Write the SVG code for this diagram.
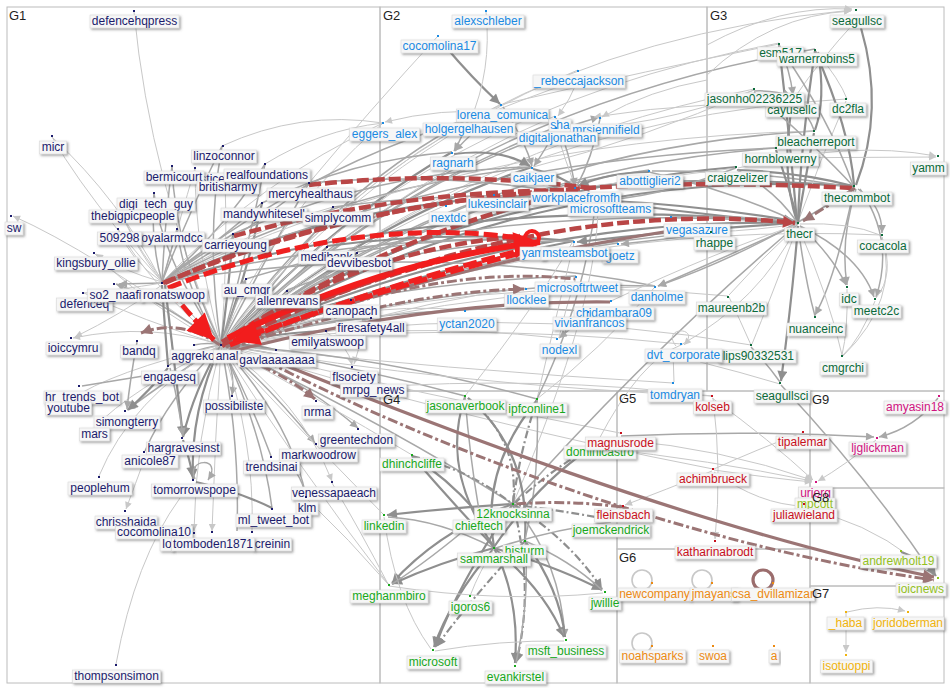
<svg xmlns="http://www.w3.org/2000/svg" width="950" height="688" viewBox="0 0 950 688">
<defs>
<style>
.fr{fill:none;stroke:#bcbcbc;stroke-width:1}
.gt{font-family:"Liberation Sans",Arial,sans-serif;font-size:13px;fill:#1e1e1e}
.n text{font-family:"Liberation Sans",Arial,sans-serif;font-size:12px;text-anchor:middle}
.lb{fill:#f6f6f6;stroke:#d9d9d9;stroke-width:.6;filter:url(#sh)}
.c1 text,.c1 .d{fill:#1b1b6c}
.c2 text,.c2 .d{fill:#1a8ae2}
.c3 text,.c3 .d{fill:#0b6a3a}
.c4 text,.c4 .d{fill:#18a81c}
.c5 text,.c5 .d{fill:#c8101c}
.c6 text,.c6 .d{fill:#ec8a12}
.c7 text,.c7 .d{fill:#f0b30c}
.c8 text,.c8 .d{fill:#93c11e}
.c9 text,.c9 .d{fill:#d0137f}
#edges path,#edges circle{fill:none}
.l{stroke:#c8c8c8;stroke-width:1}
.m{stroke:#a8a8a8;stroke-width:1.5}
.k{stroke:#8f8f8f;stroke-width:2.2}
.kd{stroke:#8f8f8f;stroke-width:2.2;stroke-dasharray:8 3 2 3}
.br{stroke:#9b7575;stroke-width:3.2}
.bd{stroke:#9b7575;stroke-width:3;stroke-dasharray:10 3 3 3}
.rd{stroke:#b94646;stroke-width:4.5;stroke-dasharray:12 4}
.rr{stroke:#f21d1d;stroke-width:6}
.rx{stroke:#ef2020;stroke-width:5;stroke-dasharray:14 5}
.a1{marker-end:url(#aL)}
.a2{marker-end:url(#aM)}
.a3{marker-end:url(#aK)}
.a4{marker-end:url(#aB)}
.a5{marker-end:url(#aR)}
.a6{marker-end:url(#aD)}
</style>
<filter id="sh" x="-10%" y="-30%" width="130%" height="180%"><feDropShadow dx="1.5" dy="1.5" stdDeviation="0.8" flood-color="#555" flood-opacity="0.55"/></filter>
<marker id="aL" viewBox="0 0 10 10" refX="10" refY="5" markerWidth="9" markerHeight="7" orient="auto" markerUnits="userSpaceOnUse"><path d="M0,0 L10,5 L0,10 z" fill="#c8c8c8"/></marker>
<marker id="aM" viewBox="0 0 10 10" refX="10" refY="5" markerWidth="10" markerHeight="8" orient="auto" markerUnits="userSpaceOnUse"><path d="M0,0 L10,5 L0,10 z" fill="#a8a8a8"/></marker>
<marker id="aK" viewBox="0 0 10 10" refX="10" refY="5" markerWidth="12" markerHeight="10" orient="auto" markerUnits="userSpaceOnUse"><path d="M0,0 L10,5 L0,10 z" fill="#8f8f8f"/></marker>
<marker id="aB" viewBox="0 0 10 10" refX="10" refY="5" markerWidth="13" markerHeight="11" orient="auto" markerUnits="userSpaceOnUse"><path d="M0,0 L10,5 L0,10 z" fill="#9b7575"/></marker>
<marker id="aR" viewBox="0 0 10 10" refX="10" refY="5" markerWidth="30" markerHeight="26" orient="auto" markerUnits="userSpaceOnUse"><path d="M0,0 L10,5 L0,10 z" fill="#f21d1d"/></marker>
<marker id="aD" viewBox="0 0 10 10" refX="10" refY="5" markerWidth="14" markerHeight="12" orient="auto" markerUnits="userSpaceOnUse"><path d="M0,0 L10,5 L0,10 z" fill="#b94646"/></marker>
</defs>
<rect width="950" height="688" fill="#ffffff"/>
<g id="frames">
<rect class="fr" x="7" y="7" width="373" height="676"/>
<rect class="fr" x="380" y="7" width="327" height="384"/>
<rect class="fr" x="707" y="7" width="237" height="384"/>
<rect class="fr" x="380" y="391" width="237" height="292"/>
<rect class="fr" x="617" y="391" width="193" height="158"/>
<rect class="fr" x="810" y="391" width="134" height="97"/>
<rect class="fr" x="810" y="488" width="134" height="98"/>
<rect class="fr" x="617" y="549" width="193" height="134"/>
<rect class="fr" x="810" y="586" width="134" height="97"/>
</g>
<g id="edges">
<!-- G1 internal from hub -->
<path class="l" d="M221 345 Q150 180 134 12"/>
<path class="l" d="M221 345 Q100 220 52 137"/>
<path class="l a1" d="M221 345 Q90 250 13 216"/>
<path class="m" d="M221 345 Q205 240 222 146"/>
<path class="m" d="M221 345 Q175 250 172 166"/>
<path class="l" d="M221 345 Q195 250 195 168"/>
<path class="l" d="M221 345 Q228 260 225 177"/>
<path class="m" d="M221 345 Q248 250 265 164"/>
<path class="m" d="M221 345 Q160 255 154 193"/>
<path class="l" d="M221 345 Q140 265 119 206"/>
<path class="m" d="M221 345 Q270 250 309 183"/>
<path class="k" d="M221 345 Q248 270 262 203"/>
<path class="m" d="M221 345 Q300 255 333 207"/>
<path class="l" d="M221 345 Q150 285 118 229"/>
<path class="m" d="M221 345 Q185 290 177 229"/>
<path class="k" d="M221 345 Q228 295 233 234"/>
<path class="l" d="M221 345 Q140 300 94 253"/>
<path class="m a2" d="M221 345 Q160 300 116 284"/>
<path class="l" d="M221 345 Q140 320 84 293"/>
<path class="m a2" d="M221 345 Q233 310 246 279"/>
<path class="k" d="M221 345 Q262 318 287 291"/>
<path class="k" d="M221 345 Q282 290 327 247"/>
<path class="k" d="M221 345 Q300 288 357 253"/>
<path class="k" d="M221 345 Q300 310 351 300"/>
<path class="m a2" d="M221 345 Q300 322 370 318"/>
<path class="k" d="M221 345 Q280 332 326 331"/>
<path class="k" d="M221 345 Q250 343 276 350"/>
<path class="m" d="M221 345 Q208 342 194 345"/>
<path class="l a1" d="M221 345 Q150 322 73 338"/>
<path class="m" d="M221 345 Q188 350 168 366"/>
<path class="m a2" d="M221 345 Q236 370 232 395"/>
<path class="m a2" d="M221 345 Q170 378 127 410"/>
<path class="k a3" d="M221 345 Q194 390 183 437"/>
<path class="m a2" d="M221 345 Q268 385 315 443"/>
<path class="m" d="M221 345 Q250 400 271 456"/>
<path class="m" d="M221 345 Q168 398 145 451"/>
<path class="m a2" d="M221 345 Q300 378 358 428"/>
<path class="l" d="M221 345 Q130 400 99 476"/>
<path class="k a3" d="M221 345 Q190 410 193 479"/>
<path class="l a1" d="M221 345 Q300 400 332 481"/>
<path class="m" d="M221 345 Q290 420 306 496"/>
<path class="m" d="M221 345 Q262 430 272 508"/>
<path class="l a1" d="M221 345 Q195 440 194 531"/>
<path class="l a1" d="M221 345 Q215 440 212 531"/>
<path class="m" d="M221 345 Q240 440 237 531"/>
<path class="l" d="M221 345 Q255 440 252 531"/>
<path class="l" d="M221 345 Q130 390 94 428"/>
<path class="l" d="M221 345 Q110 372 70 400"/>
<!-- from ronatswoop -->
<path class="l" d="M162 282 Q120 200 52 137"/>
<path class="m" d="M162 282 Q190 210 222 146"/>
<path class="m" d="M162 282 Q165 220 172 166"/>
<path class="l" d="M162 282 Q180 220 195 168"/>
<path class="m" d="M162 282 Q225 230 265 164"/>
<path class="m" d="M162 282 Q150 240 154 193"/>
<path class="l" d="M162 282 Q130 240 119 206"/>
<path class="m" d="M162 282 Q250 230 309 183"/>
<path class="m" d="M162 282 Q220 240 262 203"/>
<path class="l" d="M162 282 Q250 230 333 207"/>
<path class="l" d="M162 282 Q130 260 118 229"/>
<path class="m" d="M162 282 Q170 255 177 229"/>
<path class="m" d="M162 282 Q200 255 233 234"/>
<path class="l a1" d="M162 282 Q120 270 96 254"/>
<path class="m a2" d="M162 283 L119 284"/>
<path class="l" d="M162 283 Q120 290 84 293"/>
<path class="l a1" d="M162 285 Q120 315 75 337"/>
<path class="k" d="M162 285 Q165 330 168 365"/>
<path class="k a3" d="M165 285 Q175 370 183 436"/>
<path class="k a3" d="M168 368 Q150 390 128 410"/>
<path class="m" d="M168 372 L82 386"/>
<path class="m a2" d="M170 368 Q178 400 183 436"/>
<path class="m a2" d="M137 342 Q130 380 127 409"/>
<path class="l a1" d="M146 455 Q135 485 126 509"/>
<path class="k a3" d="M183 440 Q190 460 193 477"/>
<path class="m a2" d="M195 479 C185 458 224 456 208 480"/>
<path class="k" d="M196 482 Q240 492 272 508"/>
<path class="m" d="M280 455 Q300 470 306 496"/>
<path class="l" d="M116 664 Q135 560 180 498"/>
<path class="l a1" d="M326 332 Q348 345 352 365"/>
<path class="l a1" d="M371 318 Q360 340 354 364"/>
<!-- G1 to G2/G3 -->
<path class="l" d="M221 345 Q270 220 383 123"/>
<path class="m" d="M221 345 Q320 200 468 119"/>
<path class="k" d="M221 345 Q320 230 452 152"/>
<path class="k" d="M221 345 Q360 225 532 167"/>
<path class="m" d="M221 345 Q360 205 556 127"/>
<path class="m" d="M221 345 Q350 245 494 195"/>
<path class="l" d="M221 345 Q330 255 446 205"/>
<path class="k" d="M221 345 Q400 225 594 198"/>
<path class="k" d="M221 345 Q400 275 574 241"/>
<path class="m" d="M221 345 Q420 270 618 243"/>
<path class="m" d="M221 345 Q440 280 655 286"/>
<path class="m" d="M221 345 Q400 300 588 311"/>
<path class="l" d="M221 345 Q350 300 465 310"/>
<path class="l" d="M221 345 Q400 320 557 338"/>
<path class="l" d="M221 345 Q450 320 681 344"/>
<path class="l" d="M221 345 Q450 370 673 383"/>
<path class="k" d="M221 345 Q520 165 854 186"/>
<path class="k" d="M221 345 Q510 215 798 223"/>
<path class="l" d="M221 345 Q450 150 754 89"/>
<path class="l" d="M221 345 Q420 110 779 43"/>
<path class="m" d="M221 345 Q450 110 815 49"/>
<path class="m" d="M221 345 Q480 150 814 131"/>
<path class="m" d="M221 345 Q470 170 776 148"/>
<path class="k" d="M221 345 Q460 190 736 167"/>
<path class="m" d="M221 345 Q420 200 649 170"/>
<path class="l a1" d="M221 345 Q430 50 852 10"/>
<path class="l" d="M221 345 Q480 270 728 296"/>
<path class="l" d="M221 345 Q500 300 751 345"/>
<path class="m" d="M221 345 Q460 250 711 232"/>
<path class="l" d="M221 345 Q330 190 501 104"/>
<path class="l" d="M221 345 Q360 160 578 70"/>
<path class="m a2" d="M221 345 Q390 180 599 117"/>
<path class="l" d="M221 345 Q380 190 555 116"/>
<path class="l" d="M438 36 Q370 110 309 183"/>
<path class="l" d="M221 345 Q560 220 882 235"/>
<path class="l" d="M221 345 Q480 120 846 99"/>
<path class="k" d="M162 282 Q380 185 594 198"/>
<path class="m" d="M162 282 Q300 170 468 119"/>
<path class="k" d="M162 282 Q480 190 798 223"/>
<path class="m" d="M162 282 Q420 240 655 286"/>
<path class="m" d="M162 282 Q330 190 532 167"/>
<path class="m" d="M162 282 Q380 230 574 241"/>
<path class="l" d="M162 282 Q450 140 814 131"/>
<path class="m" d="M162 282 Q450 160 776 148"/>
<path class="l" d="M162 282 Q260 180 383 123"/>
<path class="m" d="M309 183 Q450 170 594 198"/>
<path class="m" d="M333 207 Q460 190 594 198"/>
<path class="k" d="M327 246 Q450 230 574 241"/>
<path class="m" d="M357 252 Q450 235 539 242"/>
<path class="m" d="M233 234 Q380 170 532 167"/>
<path class="m" d="M262 203 Q350 160 452 152"/>
<path class="l" d="M265 164 Q320 130 383 123"/>
<path class="l" d="M222 146 Q300 110 383 123"/>
<path class="m" d="M351 300 Q460 280 576 276"/>
<path class="m" d="M287 290 Q420 240 574 241"/>
<path class="l" d="M371 318 Q520 290 655 286"/>
<path class="m" d="M246 279 Q500 200 798 223"/>
<path class="l" d="M326 331 Q430 300 526 288"/>
<!-- G1 to G4/G5 -->
<path class="m" d="M221 345 Q350 365 465 396"/>
<path class="m" d="M221 345 Q380 355 537 399"/>
<path class="l" d="M221 345 Q320 400 412 455"/>
<path class="l" d="M221 345 Q300 430 384 515"/>
<path class="m" d="M221 345 Q380 420 513 504"/>
<path class="l" d="M221 345 Q300 470 389 585"/>
<path class="l" d="M306 498 Q350 540 388 584"/>
<path class="l" d="M332 483 Q360 530 388 584"/>
<path class="l" d="M221 345 Q450 385 712 396"/>
<path class="l" d="M221 345 Q420 395 620 433"/>
<path class="l" d="M221 345 Q460 420 713 469"/>
<path class="l" d="M360 388 Q540 375 712 396"/>
<!-- G2 internal -->
<path class="k a3" d="M445 46 Q472 78 500 104"/>
<path class="l" d="M486 12 Q492 70 470 121"/>
<path class="l a1" d="M578 80 Q570 100 558 116"/>
<path class="l" d="M578 80 Q520 100 470 121"/>
<path class="l a1" d="M500 112 Q440 108 385 122"/>
<path class="m a2" d="M468 120 Q462 138 454 151"/>
<path class="m a2" d="M498 112 Q472 132 455 151"/>
<path class="k a3" d="M454 154 Q500 148 530 166"/>
<path class="m a2" d="M556 130 Q545 150 534 166"/>
<path class="m a2" d="M503 107 Q525 140 532 166"/>
<path class="l a1" d="M707 80 Q650 90 602 117"/>
<path class="l a1" d="M707 105 Q650 108 594 117"/>
<path class="l a1" d="M556 130 Q565 160 575 186"/>
<path class="m a2" d="M556 118 Q570 155 575 186"/>
<path class="m" d="M600 119 Q592 158 577 186"/>
<path class="k a3" d="M649 172 Q610 172 578 186"/>
<path class="k" d="M533 169 Q560 175 575 187"/>
<path class="l" d="M537 399 Q560 300 574 243"/>
<path class="m" d="M537 399 Q585 300 596 200"/>
<path class="l" d="M465 396 Q540 300 572 243"/>
<path class="l" d="M513 504 Q600 300 598 200"/>
<path class="l" d="M537 399 Q600 350 655 287"/>
<path class="l" d="M598 441 Q640 360 681 345"/>
<path class="m" d="M513 504 Q650 350 798 224"/>
<path class="m a2" d="M588 313 Q572 328 559 338"/>
<path class="l" d="M576 278 Q565 310 559 338"/>
<path class="l a1" d="M676 346 C660 326 702 326 684 345"/>
<path class="l" d="M673 352 L674 382"/>
<path class="k a3" d="M854 186 Q700 175 579 188"/>
<path class="k" d="M798 223 Q700 215 596 200"/>
<path class="k a3" d="M798 223 Q680 230 577 242"/>
<path class="m a2" d="M711 233 Q660 240 621 244"/>
<path class="m a2" d="M798 224 Q730 255 658 286"/>
<path class="m a2" d="M854 188 Q760 250 658 286"/>
<path class="m" d="M854 188 Q760 170 652 171"/>
<path class="l" d="M754 90 Q650 130 558 128"/>
<path class="l" d="M779 44 Q650 70 503 104"/>
<path class="l" d="M754 90 Q640 140 533 167"/>
<path class="l" d="M736 168 Q640 180 577 188"/>
<path class="m" d="M736 168 Q650 200 596 200"/>
<path class="k a3" d="M596 200 Q700 205 794 221"/>
<path class="m a3" d="M671 217 Q740 215 795 222"/>
<path class="m" d="M649 172 Q730 190 797 222"/>
<path class="l" d="M611 301 Q720 250 797 225"/>
<path class="l" d="M681 345 Q760 300 797 226"/>
<!-- G3 internal -->
<path class="l a1" d="M707 75 Q770 15 851 11"/>
<path class="l a1" d="M707 45 Q780 5 852 9"/>
<path class="k" d="M861 28 Q885 110 856 185"/>
<path class="l" d="M855 22 Q820 60 795 97"/>
<path class="k" d="M779 45 Q790 140 797 222"/>
<path class="k" d="M815 51 Q800 150 798 222"/>
<path class="m a2" d="M779 45 Q790 70 793 95"/>
<path class="m a2" d="M754 91 Q775 90 791 96"/>
<path class="k" d="M818 52 Q826 100 815 130"/>
<path class="k" d="M793 100 Q780 170 797 222"/>
<path class="m" d="M795 100 Q810 118 814 130"/>
<path class="l" d="M846 101 Q820 160 798 222"/>
<path class="l" d="M815 50 Q840 80 847 99"/>
<path class="k" d="M814 133 Q805 180 798 222"/>
<path class="l a1" d="M745 158 L936 157"/>
<path class="k" d="M776 150 Q790 190 798 222"/>
<path class="k" d="M737 170 Q800 172 853 186"/>
<path class="m" d="M737 170 Q775 190 797 222"/>
<path class="m" d="M754 92 Q820 150 853 186"/>
<path class="k" d="M815 51 Q850 130 854 185"/>
<path class="m" d="M779 46 Q830 120 853 185"/>
<path class="l a1" d="M738 168 Q850 140 936 156"/>
<path class="m a2" d="M858 189 Q882 205 882 233"/>
<path class="m a2" d="M856 189 Q840 240 847 285"/>
<path class="m a2" d="M860 189 Q895 240 876 297"/>
<path class="m a2" d="M854 189 Q835 280 815 315"/>
<path class="l" d="M800 224 Q850 222 880 235"/>
<path class="m a2" d="M800 226 Q832 255 846 285"/>
<path class="m a2" d="M800 226 Q860 255 874 297"/>
<path class="m" d="M798 226 Q805 280 815 316"/>
<path class="l" d="M798 226 Q830 300 842 355"/>
<path class="k a3" d="M798 226 Q792 300 781 381"/>
<path class="l" d="M796 227 Q760 260 729 295"/>
<path class="l" d="M797 228 Q770 300 752 344"/>
<path class="l" d="M847 289 Q848 330 842 355"/>
<path class="l" d="M875 301 Q860 340 843 355"/>
<path class="l" d="M882 237 Q895 275 876 298"/>
<path class="l" d="M882 237 Q900 300 843 356"/>
<path class="l" d="M729 297 Q740 320 751 345"/>
<path class="m" d="M751 347 Q768 365 780 382"/>
<path class="l" d="M700 362 Q740 372 780 384"/>
<path class="m" d="M781 385 Q870 480 934 576"/>
<path class="l" d="M712 232 Q760 230 797 224"/>
<!-- G4 internal -->
<path class="k a3" d="M513 504 Q450 508 387 515"/>
<path class="m" d="M494 548 Q440 520 388 517"/>
<path class="k a3" d="M494 548 Q440 562 392 584"/>
<path class="k a3" d="M513 504 Q440 530 392 583"/>
<path class="k a3" d="M494 548 Q450 600 434 647"/>
<path class="k a3" d="M513 504 Q460 580 435 647"/>
<path class="kd a3" d="M525 541 Q470 600 436 647"/>
<path class="k a3" d="M494 548 Q520 600 515 663"/>
<path class="kd a3" d="M513 504 Q535 590 516 663"/>
<path class="m" d="M525 541 Q530 600 516 663"/>
<path class="k a3" d="M494 548 Q545 590 564 637"/>
<path class="m a2" d="M513 504 Q560 560 565 637"/>
<path class="k" d="M525 541 Q560 590 565 637"/>
<path class="k a3" d="M494 548 Q560 568 602 590"/>
<path class="kd a3" d="M513 504 Q570 540 602 589"/>
<path class="m" d="M525 541 Q570 560 602 590"/>
<path class="k" d="M465 397 Q440 470 494 547"/>
<path class="kd" d="M468 398 Q520 440 513 503"/>
<path class="k" d="M468 398 Q530 450 525 539"/>
<path class="k" d="M537 400 Q480 470 494 547"/>
<path class="kd" d="M537 400 Q520 450 513 503"/>
<path class="m" d="M537 400 Q540 480 525 539"/>
<path class="k" d="M598 443 Q540 480 494 547"/>
<path class="kd" d="M598 443 Q550 470 515 503"/>
<path class="kd" d="M412 456 Q470 470 511 503"/>
<path class="k" d="M412 456 Q450 500 494 547"/>
<path class="m" d="M611 522 Q550 530 496 548"/>
<path class="kd" d="M611 520 Q560 510 515 505"/>
<path class="bd" d="M621 507 Q570 500 515 504"/>
<path class="l" d="M470 596 Q480 570 494 549"/>
<path class="l" d="M384 517 Q395 600 431 649"/>
<path class="l" d="M389 586 Q500 603 603 593"/>
<path class="l" d="M435 651 Q500 640 564 641"/>
<path class="m" d="M480 517 Q430 560 392 584"/>
<path class="k" d="M412 456 Q450 480 480 516"/>
<path class="m" d="M465 397 Q470 460 480 516"/>
<!-- G5, G8, G9 -->
<path class="l a1" d="M598 448 Q710 460 812 481"/>
<path class="l a1" d="M621 440 Q720 448 812 480"/>
<path class="m a2" d="M621 436 Q750 430 874 437"/>
<path class="l a1" d="M712 398 Q770 440 813 480"/>
<path class="l a1" d="M714 470 Q770 478 812 482"/>
<path class="l" d="M714 469 Q760 448 802 433"/>
<path class="l a1" d="M712 471 Q665 490 625 505"/>
<path class="l a1" d="M713 398 Q722 470 715 539"/>
<path class="l" d="M714 472 Q760 505 804 506"/>
<path class="l" d="M835 517 Q890 535 933 576"/>
<path class="m a2" d="M938 398 Q915 428 879 437"/>
<path class="l a1" d="M876 440 Q845 465 818 481"/>
<path class="k a3" d="M901 552 Q925 560 936 576"/>
<!-- G6 loops, G7 -->
<circle class="l" cx="642" cy="580" r="10" style="stroke-width:1.6"/>
<circle class="l" cx="702" cy="580" r="10" style="stroke-width:1.6"/>
<circle cx="763" cy="580" r="10" style="stroke:#9b6d6d;stroke-width:3.2"/>
<circle class="l" cx="642" cy="643" r="10" style="stroke-width:1.6"/>
<path class="l a1" d="M847 612 Q878 604 905 611"/>
<path class="l a1" d="M846 613 L846 652"/>
<!-- red and brown heavy edges -->
<path class="rd" d="M165 283 Q420 165 852 188"/>
<path class="rd" d="M222 342 Q400 230 574 192"/>
<path class="rd" d="M163 283 Q360 200 576 190"/>
<path class="rd" d="M234 236 Q400 190 580 190"/>
<path class="rd" d="M309 185 Q450 170 590 188"/>
<path class="rd a6" d="M222 346 Q520 195 795 223"/>
<path class="br" d="M226 347 Q420 270 670 231"/>
<path class="bd a4" d="M230 348 Q400 292 524 289"/>
<path class="br" d="M230 352 Q430 300 610 302"/>
<path class="bd" d="M230 350 Q420 262 575 279"/>
<path class="bd a4" d="M220 345 Q180 318 141 333"/>
<path class="bd a4" d="M226 352 Q280 370 315 399"/>
<path class="br a4" d="M262 356 C420 420 700 530 934 577"/>
<path class="bd a4" d="M268 362 C420 440 680 545 934 580"/>
<path class="bd a4" d="M855 188 Q830 205 803 221"/>
<path class="rd" d="M235 336 Q360 250 520 236"/>
<path class="rd" d="M240 332 Q380 270 530 240"/>
<path class="rx" d="M168 288 Q350 215 520 238"/>
<path class="rx" d="M230 345 Q360 292 522 250"/>
<path class="rr a5" d="M228 338 Q380 262 540 242"/>
<path class="rx a5" d="M537 249 Q390 286 233 341"/>
<path class="rx a5" d="M170 290 Q192 318 214 340"/>
<circle cx="532" cy="238" r="7" style="stroke:#f21d1d;stroke-width:4"/>
</g>
<g id="nodes">
<g id="n-defencehqpress" class="n c1"><rect class="lb" x="90" y="15" width="89" height="13"/><text x="134.5" y="25">defencehqpress</text><rect class="d" x="133" y="10" width="2" height="2"/></g>
<g id="n-micr" class="n c1"><rect class="lb" x="39.5" y="141" width="27" height="13"/><text x="53" y="151">micr</text><rect class="d" x="51" y="135" width="2" height="2"/></g>
<g id="n-sw" class="n c1"><rect class="lb" x="5" y="222" width="18" height="13"/><text x="14" y="232">sw</text><rect class="d" x="10" y="215" width="2" height="2"/></g>
<g id="n-linzoconnor" class="n c1"><rect class="lb" x="191.5" y="150" width="65" height="13"/><text x="224" y="160">linzoconnor</text><rect class="d" x="222" y="145" width="2" height="2"/></g>
<g id="n-stice4" class="n c1"><rect class="lb" x="198.5" y="173" width="35" height="13"/><text x="216" y="183">stice4</text><rect class="d" x="194" y="167" width="2" height="2"/></g>
<g id="n-bermicourt" class="n c1"><rect class="lb" x="144" y="171" width="60" height="13"/><text x="174" y="181">bermicourt</text><rect class="d" x="171" y="165" width="2" height="2"/></g>
<g id="n-britisharmy" class="n c1"><rect class="lb" x="197" y="181" width="62" height="13"/><text x="228" y="191">britisharmy</text><rect class="d" x="224" y="176" width="2" height="2"/></g>
<g id="n-realfoundations" class="n c1"><rect class="lb" x="224" y="169" width="86" height="13"/><text x="267" y="179">realfoundations</text><rect class="d" x="264" y="163" width="2" height="2"/></g>
<g id="n-digi_tech_guy" class="n c1"><rect class="lb" x="117" y="198" width="78" height="13"/><text x="156" y="208">digi_tech_guy</text><rect class="d" x="153" y="192" width="2" height="2"/></g>
<g id="n-thebigpicpeople" class="n c1"><rect class="lb" x="89" y="210" width="88" height="13"/><text x="133" y="220">thebigpicpeople</text></g>
<g id="n-mercyhealthaus" class="n c1"><rect class="lb" x="267" y="188" width="87" height="13"/><text x="310.5" y="198">mercyhealthaus</text><rect class="d" x="308" y="182" width="2" height="2"/></g>
<g id="n-mandywhitesell" class="n c1"><rect class="lb" x="221" y="208" width="86" height="13"/><text x="264" y="218">mandywhitesell</text><rect class="d" x="261" y="202" width="2" height="2"/></g>
<g id="n-simplycomm" class="n c1"><rect class="lb" x="303" y="212" width="70" height="13"/><text x="338" y="222">simplycomm</text><rect class="d" x="332" y="206" width="2" height="2"/></g>
<g id="n-oyalarmdcc" class="n c1"><rect class="lb" x="139.5" y="232" width="65" height="13"/><text x="172" y="242">oyalarmdcc</text><rect class="d" x="176" y="228" width="2" height="2"/></g>
<g id="n-509298" class="n c1"><rect class="lb" x="97.5" y="232" width="44" height="13"/><text x="119.5" y="242">509298</text><rect class="d" x="117" y="228" width="2" height="2"/></g>
<g id="n-carrieyoung" class="n c1"><rect class="lb" x="202.5" y="239" width="66" height="13"/><text x="235.5" y="249">carrieyoung</text><rect class="d" x="232" y="233" width="2" height="2"/></g>
<g id="n-kingsbury_ollie" class="n c1"><rect class="lb" x="54.5" y="257" width="83" height="13"/><text x="96" y="267">kingsbury_ollie</text><rect class="d" x="93" y="252" width="2" height="2"/></g>
<g id="n-defenceq" class="n c1"><rect class="lb" x="56.5" y="298" width="56" height="13"/><text x="84.5" y="308">defenceq</text><rect class="d" x="82" y="292" width="2" height="2"/></g>
<g id="n-so2_naafi" class="n c1"><rect class="lb" x="87.5" y="289" width="56" height="13"/><text x="115.5" y="299">so2_naafi</text><rect class="d" x="113" y="283" width="2" height="2"/></g>
<g id="n-ronatswoop" class="n c1"><rect class="lb" x="141" y="289" width="66" height="13"/><text x="174" y="299">ronatswoop</text><rect class="d" x="161" y="282" width="2" height="2"/></g>
<g id="n-au_cmgr" class="n c1"><rect class="lb" x="222" y="284" width="50" height="13"/><text x="247" y="294">au_cmgr</text><rect class="d" x="245" y="278" width="2" height="2"/></g>
<g id="n-allenrevans" class="n c1"><rect class="lb" x="255.5" y="295" width="64" height="13"/><text x="287.5" y="305">allenrevans</text><rect class="d" x="286" y="290" width="2" height="2"/></g>
<g id="n-medibank" class="n c1"><rect class="lb" x="298.5" y="251" width="56" height="13"/><text x="326.5" y="261">medibank</text><rect class="d" x="326" y="246" width="2" height="2"/></g>
<g id="n-devvibesbot" class="n c1"><rect class="lb" x="326" y="257" width="66" height="13"/><text x="359" y="267">devvibesbot</text><rect class="d" x="356" y="252" width="2" height="2"/></g>
<g id="n-canopach" class="n c1"><rect class="lb" x="323.5" y="305" width="56" height="13"/><text x="351.5" y="315">canopach</text><rect class="d" x="350" y="299" width="2" height="2"/></g>
<g id="n-firesafety4all" class="n c1"><rect class="lb" x="336" y="322" width="70" height="13"/><text x="371" y="332">firesafety4all</text><rect class="d" x="370" y="317" width="2" height="2"/></g>
<g id="n-emilyatswoop" class="n c1"><rect class="lb" x="289.5" y="336" width="76" height="13"/><text x="327.5" y="346">emilyatswoop</text><rect class="d" x="325" y="330" width="2" height="2"/></g>
<g id="n-aggreko" class="n c1"><rect class="lb" x="170" y="350" width="46" height="13"/><text x="193" y="360">aggreko</text><rect class="d" x="193" y="344" width="2" height="2"/></g>
<g id="n-anal" class="n c1"><rect class="lb" x="213.5" y="350" width="27" height="13"/><text x="227" y="360">anal</text><rect class="d" x="220" y="344" width="2" height="2"/></g>
<g id="n-gavlaaaaaaaa" class="n c1"><rect class="lb" x="238" y="354" width="78" height="13"/><text x="277" y="364">gavlaaaaaaaa</text><rect class="d" x="275" y="349" width="2" height="2"/></g>
<g id="n-bandq" class="n c1"><rect class="lb" x="120.5" y="345" width="37" height="13"/><text x="139" y="355">bandq</text><rect class="d" x="136" y="340" width="2" height="2"/></g>
<g id="n-ioiccymru" class="n c1"><rect class="lb" x="46" y="342" width="54" height="13"/><text x="73" y="352">ioiccymru</text><rect class="d" x="70" y="337" width="2" height="2"/></g>
<g id="n-engagesq" class="n c1"><rect class="lb" x="141.5" y="371" width="56" height="13"/><text x="169.5" y="381">engagesq</text><rect class="d" x="167" y="365" width="2" height="2"/></g>
<g id="n-hr_trends_bot" class="n c1"><rect class="lb" x="44" y="391" width="76" height="13"/><text x="82" y="401">hr_trends_bot</text><rect class="d" x="78" y="385" width="2" height="2"/></g>
<g id="n-youtube" class="n c1"><rect class="lb" x="45.5" y="402" width="46" height="13"/><text x="68.5" y="412">youtube</text></g>
<g id="n-possibiliste" class="n c1"><rect class="lb" x="203.5" y="400" width="61" height="13"/><text x="234" y="410">possibiliste</text><rect class="d" x="231" y="395" width="2" height="2"/></g>
<g id="n-simongterry" class="n c1"><rect class="lb" x="94" y="416" width="66" height="13"/><text x="127" y="426">simongterry</text><rect class="d" x="124" y="410" width="2" height="2"/></g>
<g id="n-mars" class="n c1"><rect class="lb" x="79.5" y="428" width="30" height="13"/><text x="94.5" y="438">mars</text></g>
<g id="n-hargravesinst" class="n c1"><rect class="lb" x="146.5" y="442" width="74" height="13"/><text x="183.5" y="452">hargravesinst</text><rect class="d" x="181" y="437" width="2" height="2"/></g>
<g id="n-anicole87" class="n c1"><rect class="lb" x="122" y="455" width="56" height="13"/><text x="150" y="465">anicole87</text><rect class="d" x="143" y="451" width="2" height="2"/></g>
<g id="n-nrma" class="n c1"><rect class="lb" x="302" y="406" width="31" height="13"/><text x="317.5" y="416">nrma</text><rect class="d" x="315" y="400" width="2" height="2"/></g>
<g id="n-greentechdon" class="n c1"><rect class="lb" x="318.5" y="434" width="76" height="13"/><text x="356.5" y="444">greentechdon</text><rect class="d" x="357" y="428" width="2" height="2"/></g>
<g id="n-markwoodrow" class="n c1"><rect class="lb" x="279.5" y="449" width="78" height="13"/><text x="318.5" y="459">markwoodrow</text><rect class="d" x="315" y="443" width="2" height="2"/></g>
<g id="n-trendsinai" class="n c1"><rect class="lb" x="243.5" y="461" width="56" height="13"/><text x="271.5" y="471">trendsinai</text><rect class="d" x="270" y="456" width="2" height="2"/></g>
<g id="n-flsociety" class="n c1"><rect class="lb" x="330.5" y="371" width="47" height="13"/><text x="354" y="381">flsociety</text><rect class="d" x="351" y="366" width="2" height="2"/></g>
<g id="n-mrpg_news" class="n c1"><rect class="lb" x="340.5" y="384" width="66" height="13"/><text x="373.5" y="394">mrpg_news</text></g>
<g id="n-peoplehum" class="n c1"><rect class="lb" x="68" y="482" width="64" height="13"/><text x="100" y="492">peoplehum</text><rect class="d" x="98" y="476" width="2" height="2"/></g>
<g id="n-tomorrowspope" class="n c1"><rect class="lb" x="151.5" y="484" width="86" height="13"/><text x="194.5" y="494">tomorrowspope</text><rect class="d" x="192" y="479" width="2" height="2"/></g>
<g id="n-venessapaeach" class="n c1"><rect class="lb" x="291.5" y="487" width="85" height="13"/><text x="334" y="497">venessapaeach</text><rect class="d" x="331" y="481" width="2" height="2"/></g>
<g id="n-klm" class="n c1"><rect class="lb" x="296" y="502" width="22" height="13"/><text x="307" y="512">klm</text><rect class="d" x="305" y="496" width="2" height="2"/></g>
<g id="n-chrisshaida" class="n c1"><rect class="lb" x="95" y="516" width="62" height="13"/><text x="126" y="526">chrisshaida</text><rect class="d" x="124" y="510" width="2" height="2"/></g>
<g id="n-ml_tweet_bot" class="n c1"><rect class="lb" x="236" y="514" width="75" height="13"/><text x="273.5" y="524">ml_tweet_bot</text><rect class="d" x="271" y="508" width="2" height="2"/></g>
<g id="n-cocomolina10" class="n c1"><rect class="lb" x="115.5" y="526" width="77" height="13"/><text x="154" y="536">cocomolina10</text><rect class="d" x="193" y="532" width="2" height="2"/></g>
<g id="n-lo" class="n c1"><rect class="lb" x="160" y="538" width="14" height="13"/><text x="167" y="548">lo</text></g>
<g id="n-creinin" class="n c1"><rect class="lb" x="253.5" y="538" width="38" height="13"/><text x="272.5" y="548">creinin</text><rect class="d" x="251" y="531" width="2" height="2"/></g>
<g id="n-tomboden1871" class="n c1"><rect class="lb" x="171.5" y="538" width="83" height="13"/><text x="213" y="548">tomboden1871</text><rect class="d" x="211" y="531" width="2" height="2"/></g>
<g id="n-thompsonsimon" class="n c1"><rect class="lb" x="72.5" y="670" width="88" height="13"/><text x="116.5" y="680">thompsonsimon</text><rect class="d" x="115" y="664" width="2" height="2"/></g>

<g id="n-alexschleber" class="n c2"><rect class="lb" x="452" y="15" width="72" height="13"/><text x="488" y="25">alexschleber</text><rect class="d" x="485" y="10" width="2" height="2"/></g>
<g id="n-cocomolina17" class="n c2"><rect class="lb" x="401" y="40" width="77" height="13"/><text x="439.5" y="50">cocomolina17</text><rect class="d" x="437" y="35" width="2" height="2"/></g>
<g id="n-_rebeccajackson" class="n c2"><rect class="lb" x="533" y="75" width="92" height="13"/><text x="579" y="85">_rebeccajackson</text><rect class="d" x="577" y="70" width="2" height="2"/></g>
<g id="n-lorena_comunica" class="n c2"><rect class="lb" x="456.5" y="109" width="92" height="13"/><text x="502.5" y="119">lorena_comunica</text><rect class="d" x="500" y="104" width="2" height="2"/></g>
<g id="n-holgergelhausen" class="n c2"><rect class="lb" x="423" y="123" width="92" height="13"/><text x="469" y="133">holgergelhausen</text></g>
<g id="n-eggers_alex" class="n c2"><rect class="lb" x="349.5" y="128" width="70" height="13"/><text x="384.5" y="138">eggers_alex</text><rect class="d" x="382" y="122" width="2" height="2"/></g>
<g id="n-sha" class="n c2"><rect class="lb" x="549" y="119" width="22" height="13"/><text x="560" y="129">sha</text><rect class="d" x="554" y="116" width="2" height="2"/></g>
<g id="n-mrsjennifield" class="n c2"><rect class="lb" x="570.5" y="124" width="71" height="13"/><text x="606" y="134">mrsjennifield</text><rect class="d" x="599" y="117" width="2" height="2"/></g>
<g id="n-digitaljonathan" class="n c2"><rect class="lb" x="517.5" y="132" width="80" height="13"/><text x="557.5" y="142">digitaljonathan</text><rect class="d" x="555" y="127" width="2" height="2"/></g>
<g id="n-ragnarh" class="n c2"><rect class="lb" x="430.5" y="157" width="45" height="13"/><text x="453" y="167">ragnarh</text><rect class="d" x="451" y="152" width="2" height="2"/></g>
<g id="n-caikjaer" class="n c2"><rect class="lb" x="511" y="172" width="45" height="13"/><text x="533.5" y="182">caikjaer</text><rect class="d" x="531" y="167" width="2" height="2"/></g>
<g id="n-abottiglieri2" class="n c2"><rect class="lb" x="617" y="175" width="66" height="13"/><text x="650" y="185">abottiglieri2</text><rect class="d" x="648" y="170" width="2" height="2"/></g>
<g id="n-workplacefromfh" class="n c2"><rect class="lb" x="531" y="192" width="90" height="13"/><text x="576" y="202">workplacefromfh</text><rect class="d" x="574" y="187" width="2" height="2"/></g>
<g id="n-lukesinclair" class="n c2"><rect class="lb" x="466.5" y="198" width="62" height="13"/><text x="497.5" y="208">lukesinclair</text><rect class="d" x="493" y="194" width="2" height="2"/></g>
<g id="n-microsoftteams" class="n c2"><rect class="lb" x="568" y="203" width="85" height="13"/><text x="610.5" y="213">microsoftteams</text></g>
<g id="n-nextdc" class="n c2"><rect class="lb" x="429" y="212" width="39" height="13"/><text x="448.5" y="222">nextdc</text><rect class="d" x="445" y="205" width="2" height="2"/></g>
<g id="n-vegasazure" class="n c2"><rect class="lb" x="664" y="224" width="66" height="13"/><text x="697" y="234">vegasazure</text><rect class="d" x="670" y="216" width="2" height="2"/></g>
<g id="n-yam" class="n c2"><rect class="lb" x="520" y="247" width="26" height="13"/><text x="533" y="257">yam</text></g>
<g id="n-goetz" class="n c2"><rect class="lb" x="602" y="250" width="36" height="13"/><text x="620" y="260">goetz</text><rect class="d" x="617" y="243" width="2" height="2"/></g>
<g id="n-msteamsbot" class="n c2"><rect class="lb" x="541" y="247" width="68" height="13"/><text x="575" y="257">msteamsbot</text><rect class="d" x="573" y="241" width="2" height="2"/></g>
<g id="n-microsoftrtweet" class="n c2"><rect class="lb" x="535" y="282" width="85" height="13"/><text x="577.5" y="292">microsoftrtweet</text><rect class="d" x="575" y="276" width="2" height="2"/></g>
<g id="n-llocklee" class="n c2"><rect class="lb" x="504.5" y="294" width="44" height="13"/><text x="526.5" y="304">llocklee</text><rect class="d" x="525" y="288" width="2" height="2"/></g>
<g id="n-danholme" class="n c2"><rect class="lb" x="629" y="291" width="56" height="13"/><text x="657" y="301">danholme</text><rect class="d" x="654" y="286" width="2" height="2"/></g>
<g id="n-chidambara09" class="n c2"><rect class="lb" x="574" y="307" width="80" height="13"/><text x="614" y="317">chidambara09</text><rect class="d" x="610" y="300" width="2" height="2"/></g>
<g id="n-vivianfrancos" class="n c2"><rect class="lb" x="553" y="317" width="73" height="13"/><text x="589.5" y="327">vivianfrancos</text><rect class="d" x="587" y="311" width="2" height="2"/></g>
<g id="n-yctan2020" class="n c2"><rect class="lb" x="437.5" y="318" width="59" height="13"/><text x="467" y="328">yctan2020</text><rect class="d" x="464" y="310" width="2" height="2"/></g>
<g id="n-nodexl" class="n c2"><rect class="lb" x="540" y="344" width="39" height="13"/><text x="559.5" y="354">nodexl</text><rect class="d" x="556" y="338" width="2" height="2"/></g>
<g id="n-tomdryan" class="n c2"><rect class="lb" x="648" y="389" width="54" height="13"/><text x="675" y="399">tomdryan</text><rect class="d" x="672" y="382" width="2" height="2"/></g>

<g id="n-seagullsc" class="n c3"><rect class="lb" x="830" y="15" width="54" height="13"/><text x="857" y="25">seagullsc</text><rect class="d" x="855" y="9" width="2" height="2"/></g>
<g id="n-esm517" class="n c3"><rect class="lb" x="757.5" y="47" width="46" height="13"/><text x="780.5" y="57">esm517</text><rect class="d" x="778" y="43" width="2" height="2"/></g>
<g id="n-warnerrobins5" class="n c3"><rect class="lb" x="777" y="53" width="80" height="13"/><text x="817" y="63">warnerrobins5</text><rect class="d" x="814" y="49" width="2" height="2"/></g>
<g id="n-cayusellc" class="n c3"><rect class="lb" x="765.5" y="104" width="53" height="13"/><text x="792" y="114">cayusellc</text></g>
<g id="n-jasonho02236225" class="n c3"><rect class="lb" x="705" y="93" width="99" height="13"/><text x="754.5" y="103">jasonho02236225</text><rect class="d" x="753" y="88" width="2" height="2"/></g>
<g id="n-dc2fla" class="n c3"><rect class="lb" x="830" y="103" width="36" height="13"/><text x="848" y="113">dc2fla</text><rect class="d" x="845" y="98" width="2" height="2"/></g>
<g id="n-bleacherreport" class="n c3"><rect class="lb" x="776" y="136" width="80" height="13"/><text x="816" y="146">bleacherreport</text><rect class="d" x="813" y="130" width="2" height="2"/></g>
<g id="n-hornblowerny" class="n c3"><rect class="lb" x="742.5" y="153" width="76" height="13"/><text x="780.5" y="163">hornblowerny</text><rect class="d" x="775" y="147" width="2" height="2"/></g>
<g id="n-craigzelizer" class="n c3"><rect class="lb" x="705.5" y="172" width="64" height="13"/><text x="737.5" y="182">craigzelizer</text><rect class="d" x="735" y="166" width="2" height="2"/></g>
<g id="n-yamm" class="n c3"><rect class="lb" x="910.5" y="162" width="36" height="13"/><text x="928.5" y="172">yamm</text><rect class="d" x="937" y="155" width="2" height="2"/></g>
<g id="n-thecommbot" class="n c3"><rect class="lb" x="822" y="192" width="70" height="13"/><text x="857" y="202">thecommbot</text><rect class="d" x="853" y="185" width="2" height="2"/></g>
<g id="n-rhappe" class="n c3"><rect class="lb" x="694" y="237" width="41" height="13"/><text x="714.5" y="247">rhappe</text><rect class="d" x="710" y="231" width="2" height="2"/></g>
<g id="n-thecr" class="n c3"><rect class="lb" x="784.5" y="228" width="30" height="13"/><text x="799.5" y="238">thecr</text><rect class="d" x="797" y="222" width="2" height="2"/></g>
<g id="n-cocacola" class="n c3"><rect class="lb" x="857.5" y="240" width="51" height="13"/><text x="883" y="250">cocacola</text><rect class="d" x="881" y="234" width="2" height="2"/></g>
<g id="n-idc" class="n c3"><rect class="lb" x="839.5" y="293" width="19" height="13"/><text x="849" y="303">idc</text><rect class="d" x="846" y="286" width="2" height="2"/></g>
<g id="n-meetc2c" class="n c3"><rect class="lb" x="852" y="305" width="49" height="13"/><text x="876.5" y="315">meetc2c</text><rect class="d" x="874" y="298" width="2" height="2"/></g>
<g id="n-maureenb2b" class="n c3"><rect class="lb" x="696.5" y="302" width="70" height="13"/><text x="731.5" y="312">maureenb2b</text><rect class="d" x="727" y="296" width="2" height="2"/></g>
<g id="n-nuanceinc" class="n c3"><rect class="lb" x="787" y="323" width="58" height="13"/><text x="816" y="333">nuanceinc</text><rect class="d" x="814" y="316" width="2" height="2"/></g>
<g id="n-ilips90332531" class="n c3"><rect class="lb" x="718" y="350" width="78" height="13"/><text x="757" y="360">ilips90332531</text><rect class="d" x="750" y="344" width="2" height="2"/></g>
<g id="n-dvt_corporate" class="n c2"><rect class="lb" x="645" y="349" width="77" height="13"/><text x="683.5" y="359">dvt_corporate</text><rect class="d" x="680" y="343" width="2" height="2"/></g>
<g id="n-cmgrchi" class="n c3"><rect class="lb" x="820" y="362" width="46" height="13"/><text x="843" y="372">cmgrchi</text><rect class="d" x="841" y="355" width="2" height="2"/></g>
<g id="n-seagullsci" class="n c3"><rect class="lb" x="754" y="390" width="56" height="13"/><text x="782" y="400">seagullsci</text><rect class="d" x="779" y="382" width="2" height="2"/></g>

<g id="n-jasonaverbook" class="n c4"><rect class="lb" x="425.5" y="400" width="80" height="13"/><text x="465.5" y="410">jasonaverbook</text><rect class="d" x="464" y="395" width="2" height="2"/></g>
<g id="n-ipfconline1" class="n c4"><rect class="lb" x="507" y="403" width="60" height="13"/><text x="537" y="413">ipfconline1</text><rect class="d" x="536" y="398" width="2" height="2"/></g>
<g id="n-dominicastro" class="n c4"><rect class="lb" x="564" y="446" width="72" height="13"/><text x="600" y="456">dominicastro</text><rect class="d" x="597" y="440" width="2" height="2"/></g>
<g id="n-dhinchcliffe" class="n c4"><rect class="lb" x="380" y="458" width="64" height="13"/><text x="412" y="468">dhinchcliffe</text><rect class="d" x="411" y="454" width="2" height="2"/></g>
<g id="n-12knocksinna" class="n c4"><rect class="lb" x="474.5" y="508" width="77" height="13"/><text x="513" y="518">12knocksinna</text><rect class="d" x="512" y="503" width="2" height="2"/></g>
<g id="n-chieftech" class="n c4"><rect class="lb" x="453" y="520" width="52" height="13"/><text x="479" y="530">chieftech</text></g>
<g id="n-linkedin" class="n c4"><rect class="lb" x="362" y="520" width="44" height="13"/><text x="384" y="530">linkedin</text><rect class="d" x="383" y="514" width="2" height="2"/></g>
<g id="n-joemckendrick" class="n c4"><rect class="lb" x="572" y="524" width="78" height="13"/><text x="611" y="534">joemckendrick</text></g>
<g id="n-hjsturm" class="n c4"><rect class="lb" x="503" y="545" width="43" height="13"/><text x="524.5" y="555">hjsturm</text><rect class="d" x="524" y="540" width="2" height="2"/></g>
<g id="n-sammarshall" class="n c4"><rect class="lb" x="457.5" y="553" width="73" height="13"/><text x="494" y="563">sammarshall</text><rect class="d" x="493" y="547" width="2" height="2"/></g>
<g id="n-meghanmbiro" class="n c4"><rect class="lb" x="350" y="590" width="78" height="13"/><text x="389" y="600">meghanmbiro</text><rect class="d" x="388" y="584" width="2" height="2"/></g>
<g id="n-igoros6" class="n c4"><rect class="lb" x="449" y="601" width="43" height="13"/><text x="470.5" y="611">igoros6</text><rect class="d" x="469" y="595" width="2" height="2"/></g>
<g id="n-jwillie" class="n c4"><rect class="lb" x="589" y="597" width="32" height="13"/><text x="605" y="607">jwillie</text><rect class="d" x="604" y="591" width="2" height="2"/></g>
<g id="n-microsoft" class="n c4"><rect class="lb" x="407" y="656" width="52" height="13"/><text x="433" y="666">microsoft</text><rect class="d" x="432" y="649" width="2" height="2"/></g>
<g id="n-msft_business" class="n c4"><rect class="lb" x="526" y="645" width="80" height="13"/><text x="566" y="655">msft_business</text><rect class="d" x="565" y="639" width="2" height="2"/></g>
<g id="n-evankirstel" class="n c4"><rect class="lb" x="485" y="671" width="61" height="13"/><text x="515.5" y="681">evankirstel</text><rect class="d" x="514" y="665" width="2" height="2"/></g>

<g id="n-kolseb" class="n c5"><rect class="lb" x="693.5" y="401" width="38" height="13"/><text x="712.5" y="411">kolseb</text><rect class="d" x="711" y="395" width="2" height="2"/></g>
<g id="n-magnusrode" class="n c5"><rect class="lb" x="585.5" y="437" width="70" height="13"/><text x="620.5" y="447">magnusrode</text><rect class="d" x="620" y="432" width="2" height="2"/></g>
<g id="n-tipalemar" class="n c5"><rect class="lb" x="776" y="436" width="53" height="13"/><text x="802.5" y="446">tipalemar</text><rect class="d" x="802" y="431" width="2" height="2"/></g>
<g id="n-achimbrueck" class="n c5"><rect class="lb" x="677" y="473" width="72" height="13"/><text x="713" y="483">achimbrueck</text><rect class="d" x="712" y="468" width="2" height="2"/></g>
<g id="n-fleinsbach" class="n c5"><rect class="lb" x="594.5" y="509" width="58" height="13"/><text x="623.5" y="519">fleinsbach</text><rect class="d" x="622" y="505" width="2" height="2"/></g>
<g id="n-katharinabrodt" class="n c5"><rect class="lb" x="675" y="546" width="80" height="13"/><text x="715" y="556">katharinabrodt</text><rect class="d" x="714" y="540" width="2" height="2"/></g>

<g id="n-amyasin18" class="n c9"><rect class="lb" x="884" y="401" width="62" height="13"/><text x="915" y="411">amyasin18</text><rect class="d" x="938" y="395" width="2" height="2"/></g>
<g id="n-ljglickman" class="n c9"><rect class="lb" x="849" y="442" width="57" height="13"/><text x="877.5" y="452">ljglickman</text><rect class="d" x="876" y="437" width="2" height="2"/></g>
<g id="n-urjerg" class="n c9"><rect class="lb" x="798.5" y="487" width="34" height="13"/><text x="815.5" y="497">urjerg</text><rect class="d" x="815" y="481" width="2" height="2"/></g>
<g id="n-mpcott" class="n c8"><rect class="lb" x="795" y="498" width="40" height="13"/><text x="815" y="508">mpcott</text></g>
<g id="n-juliawieland" class="n c5"><rect class="lb" x="771" y="509" width="66" height="13"/><text x="804" y="519">juliawieland</text><rect class="d" x="803" y="503" width="2" height="2"/></g>
<g id="n-andrewholt19" class="n c8"><rect class="lb" x="860.5" y="555" width="76" height="13"/><text x="898.5" y="565">andrewholt19</text><rect class="d" x="900" y="550" width="2" height="2"/></g>
<g id="n-ioicnews" class="n c8"><rect class="lb" x="896" y="583" width="50" height="13"/><text x="921" y="593">ioicnews</text><rect class="d" x="937" y="577" width="2" height="2"/></g>

<g id="n-newcompany" class="n c6"><rect class="lb" x="618" y="588" width="73" height="13"/><text x="654.5" y="598">newcompany</text><rect class="d" x="651" y="582" width="2" height="2"/></g>
<g id="n-jmayans" class="n c6"><rect class="lb" x="690" y="588" width="48" height="13"/><text x="714" y="598">jmayans</text><rect class="d" x="711" y="582" width="2" height="2"/></g>
<g id="n-csa_dvillamizar" class="n c6"><rect class="lb" x="731.5" y="588" width="83" height="13"/><text x="773" y="598">csa_dvillamizar</text><rect class="d" x="772" y="582" width="2" height="2"/></g>
<g id="n-noahsparks" class="n c6"><rect class="lb" x="619.5" y="650" width="66" height="13"/><text x="652.5" y="660">noahsparks</text><rect class="d" x="651" y="645" width="2" height="2"/></g>
<g id="n-swoa" class="n c6"><rect class="lb" x="697" y="650" width="32" height="13"/><text x="713" y="660">swoa</text><rect class="d" x="712" y="645" width="2" height="2"/></g>
<g id="n-a" class="n c6"><rect class="lb" x="769" y="650" width="10" height="13"/><text x="774" y="660">a</text><rect class="d" x="773" y="645" width="2" height="2"/></g>
<g id="n-_haba" class="n c7"><rect class="lb" x="827" y="617" width="37" height="13"/><text x="845.5" y="627">_haba</text><rect class="d" x="845" y="611" width="2" height="2"/></g>
<g id="n-joridoberman" class="n c7"><rect class="lb" x="872" y="617" width="72" height="13"/><text x="908" y="627">joridoberman</text><rect class="d" x="907" y="611" width="2" height="2"/></g>
<g id="n-isotuoppi" class="n c7"><rect class="lb" x="820.5" y="660" width="52" height="13"/><text x="846.5" y="670">isotuoppi</text><rect class="d" x="845" y="654" width="2" height="2"/></g>
</g>
<g id="group-labels">
<text class="gt" x="9" y="20">G1</text>
<text class="gt" x="383" y="20">G2</text>
<text class="gt" x="710" y="20">G3</text>
<text class="gt" x="383" y="404">G4</text>
<text class="gt" x="619" y="403">G5</text>
<text class="gt" x="812" y="404">G9</text>
<text class="gt" x="812" y="502">G8</text>
<text class="gt" x="619" y="562">G6</text>
<text class="gt" x="812" y="598">G7</text>
</g>
</svg>
